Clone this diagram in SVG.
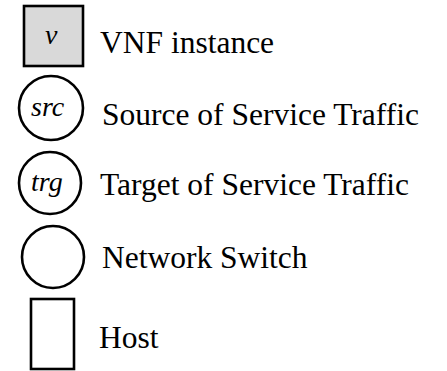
<svg xmlns="http://www.w3.org/2000/svg" width="447" height="371" viewBox="0 0 447 371">
  <rect width="447" height="371" fill="#fff"/>

  <!-- legend entries: symbol on the left, caption on the right -->
  <g id="vnf-instance">
    <rect x="24" y="6" width="59" height="60" fill="#d9d9d9" stroke="#000" stroke-width="2.6"/>
    <text x="45" y="44" font-family="Times New Roman" font-size="28" font-style="italic">v</text>
    <text x="100" y="53" font-family="Times New Roman" font-size="31.5">VNF instance</text>
  </g>

  <g id="source">
    <circle cx="51" cy="108" r="32" fill="#fff" stroke="#000" stroke-width="2.6"/>
    <text x="31" y="116" font-family="Times New Roman" font-size="28" font-style="italic">src</text>
    <text x="102" y="125" font-family="Times New Roman" font-size="31.5">Source of Service Traffic</text>
  </g>

  <g id="target">
    <circle cx="50" cy="183" r="31" fill="#fff" stroke="#000" stroke-width="2.6"/>
    <text x="31" y="191" font-family="Times New Roman" font-size="28" font-style="italic">trg</text>
    <text x="100" y="195" font-family="Times New Roman" font-size="31.5">Target of Service Traffic</text>
  </g>

  <g id="switch">
    <circle cx="53" cy="257" r="31" fill="#fff" stroke="#000" stroke-width="2.6"/>
    <text x="102" y="268" font-family="Times New Roman" font-size="31.5">Network Switch</text>
  </g>

  <g id="host">
    <rect x="31" y="299" width="43" height="70" fill="#fff" stroke="#000" stroke-width="2.6"/>
    <text x="99" y="348" font-family="Times New Roman" font-size="31.5">Host</text>
  </g>

  <g id="connectors"/>
</svg>
